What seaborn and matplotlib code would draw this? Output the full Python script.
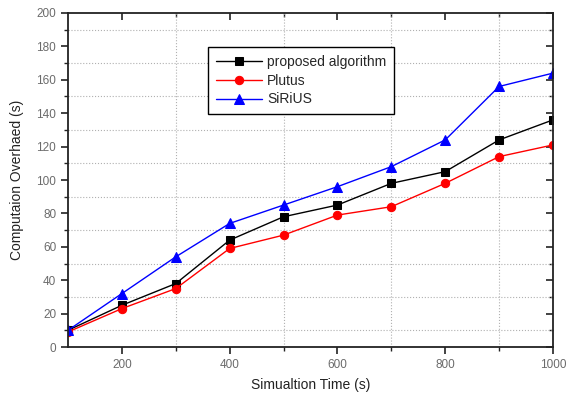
import matplotlib
matplotlib.use("Agg")
import matplotlib.pyplot as plt
import seaborn as sns
from matplotlib.ticker import FixedLocator, NullFormatter

sim_time = [100, 200, 300, 400, 500, 600, 700, 800, 900, 1000]
proposed = [10, 25, 38, 64, 78, 85, 98, 105, 124, 136]
plutus = [9, 23, 35, 59, 67, 79, 84, 98, 114, 121]
sirius = [10, 32, 54, 74, 85, 96, 108, 124, 156, 164]

x_major = [200, 400, 600, 800, 1000]
x_minor = [300, 500, 700, 900]
y_major = list(range(0, 201, 20))
y_minor = list(range(10, 200, 20))

sns.set_theme(style="ticks")
plt.rcParams["font.family"] = ["Liberation Sans", "DejaVu Sans"]

fig = plt.figure(figsize=(5.68, 3.96), dpi=100)
ax = fig.add_axes([0.1197, 0.1237, 0.8539, 0.8435])

sns.lineplot(x=sim_time, y=proposed, color="black", marker="s", markersize=6,
             markeredgecolor="black", linewidth=1, label="proposed algorithm", ax=ax)
sns.lineplot(x=sim_time, y=plutus, color="red", marker="o", markersize=6,
             markeredgecolor="red", linewidth=1, label="Plutus", ax=ax)
sns.lineplot(x=sim_time, y=sirius, color="blue", marker="^", markersize=7,
             markeredgecolor="blue", linewidth=1, label="SiRiUS", ax=ax)

ax.set_xlim(100, 1000)
ax.set_ylim(0, 200)
ax.xaxis.set_major_locator(FixedLocator(x_major))
ax.xaxis.set_minor_locator(FixedLocator(x_minor))
ax.yaxis.set_major_locator(FixedLocator(y_major))
ax.yaxis.set_minor_locator(FixedLocator(y_minor))

ax.grid(which="minor", linestyle=":", color="#b0b0b0", linewidth=0.8)
ax.grid(which="major", visible=False)

for s in ax.spines.values():
    s.set_visible(True)
    s.set_color("#222222")
    s.set_linewidth(1.3)

ax.tick_params(which="major", direction="out", length=5, width=1.2,
               labelsize=8.5, labelcolor="#6b6b6b", color="#222222")
ax.tick_params(which="minor", direction="out", length=3, width=1,
               color="#222222")

# inward ticks on top and right
top = ax.secondary_xaxis("top")
top.xaxis.set_major_locator(FixedLocator(x_major))
top.xaxis.set_minor_locator(FixedLocator(x_minor))
top.xaxis.set_major_formatter(NullFormatter())
top.tick_params(which="major", direction="in", length=5, width=1.2, color="#222222")
top.tick_params(which="minor", direction="in", length=3, width=1, color="#222222")
top.spines["top"].set_visible(False)
right = ax.secondary_yaxis("right")
right.yaxis.set_major_locator(FixedLocator(y_major))
right.yaxis.set_minor_locator(FixedLocator(y_minor))
right.yaxis.set_major_formatter(NullFormatter())
right.tick_params(which="major", direction="in", length=5, width=1.2, color="#222222")
right.tick_params(which="minor", direction="in", length=3, width=1, color="#222222")
right.spines["right"].set_visible(False)

ax.set_xlabel("Simualtion Time (s)", fontsize=10, color="#222222", labelpad=5)
ax.set_ylabel("Computaion Overhaed (s)", fontsize=10, color="#222222", labelpad=9)

leg = ax.legend(loc="upper left", bbox_to_anchor=(0.289, 0.898), borderaxespad=0,
                fancybox=False, edgecolor="black", framealpha=1, fontsize=10,
                handlelength=3.3, labelspacing=0.35, borderpad=0.55,
                handletextpad=0.4)
leg.get_frame().set_linewidth(1)

fig.savefig("out.png", dpi=100)
